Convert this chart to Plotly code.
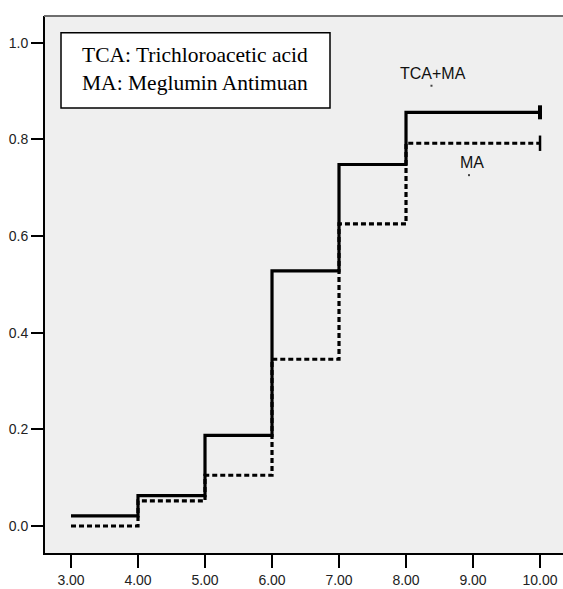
import plotly.graph_objects as go

# Data
times = [3, 4, 5, 6, 7, 8, 10]
tca_ma = [0.021, 0.063, 0.1875, 0.528, 0.748, 0.856, 0.856]
ma = [0.0, 0.052, 0.105, 0.345, 0.625, 0.792, 0.792]
x_ticks = [3, 4, 5, 6, 7, 8, 9, 10]
x_tick_labels = ["3.00", "4.00", "5.00", "6.00", "7.00", "8.00", "9.00", "10.00"]
y_ticks = [0.0, 0.2, 0.4, 0.6, 0.8, 1.0]
y_tick_labels = ["0.0", "0.2", "0.4", "0.6", "0.8", "1.0"]
series_names = ["TCA+MA", "MA"]
legend_lines = ["TCA: Trichloroacetic acid", "MA: Meglumin Antimuan"]

fig = go.Figure()

fig.add_trace(go.Scatter(
    x=times, y=ma, mode="lines", line_shape="hv",
    line=dict(color="black", width=3.2, dash="5px,3px"),
    showlegend=False, name=series_names[1]))
fig.add_trace(go.Scatter(
    x=times, y=tca_ma, mode="lines", line_shape="hv",
    line=dict(color="black", width=3.2),
    showlegend=False, name=series_names[0]))
# censor marks at end
fig.add_trace(go.Scatter(
    x=[times[-1]], y=[tca_ma[-1]], mode="markers",
    marker=dict(symbol="line-ns-open", size=10, color="black",
                line=dict(color="black", width=4)),
    showlegend=False))
fig.add_trace(go.Scatter(
    x=[times[-1]], y=[ma[-1]], mode="markers",
    marker=dict(symbol="line-ns-open", size=11, color="black",
                line=dict(color="black", width=2.5)),
    showlegend=False))
# tiny label anchor dots
fig.add_trace(go.Scatter(
    x=[8.38, 8.94], y=[0.911, 0.726], mode="markers",
    marker=dict(symbol="square", size=2, color="#444"),
    showlegend=False))

label_font = dict(family="Liberation Sans, Arial, sans-serif", size=16, color="#111")
fig.add_annotation(x=8.40, y=0.937, text=series_names[0], showarrow=False, font=label_font)
fig.add_annotation(x=8.98, y=0.752, text=series_names[1], showarrow=False, font=label_font)

# legend box
fig.add_shape(type="rect", xref="paper", yref="paper",
              x0=0.0309, x1=0.5502, y0=0.8287, y1=0.9689,
              line=dict(color="black", width=1.5), fillcolor="white")
fig.add_annotation(xref="paper", yref="paper", x=0.067, y=0.901,
                   xanchor="left", yanchor="middle", align="left",
                   text="<br>".join(legend_lines), showarrow=False,
                   font=dict(family="Liberation Serif, Times New Roman, serif", size=21.5, color="black"))

# top grey border
fig.add_shape(type="line", xref="paper", yref="paper", x0=-0.002, x1=1, y0=1, y1=1,
              line=dict(color="#6e6e6e", width=2))

tick_font = dict(family="Liberation Sans, Arial, sans-serif", size=14, color="#222")
fig.update_xaxes(range=[2.612, 10.343], tickvals=x_ticks, ticktext=x_tick_labels,
                 ticks="outside", ticklen=13, tickwidth=2, tickcolor="black",
                 showline=True, linecolor="black", linewidth=2,
                 showgrid=False, zeroline=False, tickfont=tick_font)
fig.update_yaxes(range=[-0.0559, 1.0553], tickvals=y_ticks, ticktext=y_tick_labels,
                 ticks="outside", ticklen=12, tickwidth=2, tickcolor="black",
                 showline=True, linecolor="black", linewidth=2,
                 showgrid=False, zeroline=False, tickfont=tick_font)

fig.update_layout(width=563, height=589,
                  margin=dict(l=45, r=0, t=16, b=36),
                  plot_bgcolor="#efefef", paper_bgcolor="white")

fig.write_html("out.html", config={"displayModeBar": False, "staticPlot": True},
               post_script="document.body.style.margin='0';document.body.style.overflow='hidden';")
